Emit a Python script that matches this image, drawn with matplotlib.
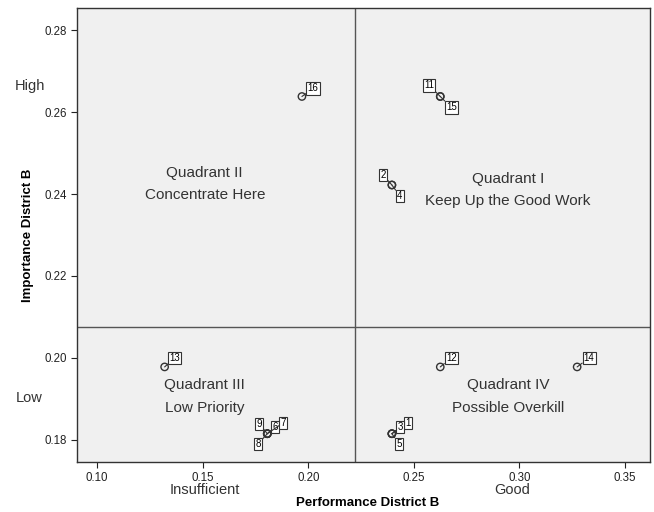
import matplotlib.pyplot as plt

plt.rcParams['font.family'] = ['Liberation Sans', 'DejaVu Sans']

# case ids with performance (x) and importance (y) for District B
case_ids = ['1', '2', '3', '4', '5', '6', '7', '8', '9', '11', '12', '13', '14', '15', '16']
performance = [0.2396, 0.2396, 0.2396, 0.2396, 0.2396, 0.1806, 0.1806, 0.1806, 0.1806,
               0.2625, 0.2625, 0.1320, 0.3273, 0.2625, 0.1970]
importance = [0.1815, 0.2422, 0.1815, 0.2422, 0.1815, 0.1815, 0.1815, 0.1815, 0.1815,
              0.2638, 0.1978, 0.1978, 0.1978, 0.2638, 0.2638]

x_split = 0.2222
y_split = 0.2076

x_ticks = [0.10, 0.15, 0.20, 0.25, 0.30, 0.35]
y_ticks = [0.18, 0.20, 0.22, 0.24, 0.26, 0.28]

quadrant_texts = ['Quadrant I\nKeep Up the Good Work', 'Quadrant II\nConcentrate Here',
                  'Quadrant III\nLow Priority', 'Quadrant IV\nPossible Overkill']

# label offsets in pixels (SPSS style point labels)
label_offsets = {'1': (16, 11), '2': (-9, 10), '3': (8, 7), '4': (8, -11), '5': (7, -10),
                 '6': (8, 7), '7': (16, 11), '8': (-9, -10), '9': (-8, 10),
                 '11': (-11, 11), '12': (11, 9), '13': (10, 9), '14': (12, 9),
                 '15': (11, -11), '16': (11, 8)}

fig = plt.figure(figsize=(6.54, 5.12), dpi=100)
ax = fig.add_axes([0.1177, 0.0977, 0.8762, 0.8867])
ax.set_facecolor('#f0f0f0')

ax.scatter(performance, importance, s=28, facecolors='none', edgecolors='#333333',
           linewidths=1.0, zorder=3)

for cid, px, py in zip(case_ids, performance, importance):
    dx, dy = label_offsets[cid]
    ax.annotate(cid, (px, py), xytext=(dx, dy), textcoords='offset pixels',
                ha='center', va='center', fontsize=7, color='black',
                bbox=dict(boxstyle='square,pad=0.12', fc='white', ec='#333333', lw=0.8),
                arrowprops=dict(arrowstyle='-', color='#333333', lw=0.8,
                                shrinkA=0, shrinkB=0), zorder=4)

ax.axvline(x_split, color='#555555', lw=1.0, zorder=2)
ax.axhline(y_split, color='#555555', lw=1.0, zorder=2)

ax.set_xlim(0.0905, 0.3618)
ax.set_ylim(0.1746, 0.2854)
ax.set_xticks(x_ticks)
ax.set_yticks(y_ticks)
ax.set_xticklabels([f'{t:.2f}' for t in x_ticks])
ax.set_yticklabels([f'{t:.2f}' for t in y_ticks])
ax.tick_params(labelsize=8.3, colors='#222222', length=4, width=0.8)
for sp in ax.spines.values():
    sp.set_color('#333333')
    sp.set_linewidth(1.0)

qkw = dict(ha='center', va='center', fontsize=11, color='#333333', linespacing=1.75)
ax.text(0.2945, 0.2410, quadrant_texts[0], **qkw)
ax.text(0.1510, 0.2425, quadrant_texts[1], **qkw)
ax.text(0.1510, 0.1906, quadrant_texts[2], **qkw)
ax.text(0.2945, 0.1906, quadrant_texts[3], **qkw)

side_kw = dict(ha='center', va='center', fontsize=10.5, color='#333333')
fig.text(30 / 654, 1 - 86 / 512, 'High', **side_kw)
fig.text(29 / 654, 1 - 398 / 512, 'Low', **side_kw)
fig.text(205 / 654, 1 - 490 / 512, 'Insufficient', **side_kw)
fig.text(512 / 654, 1 - 490 / 512, 'Good', **side_kw)

fig.text(368 / 654, 1 - 503 / 512, 'Performance District B', ha='center', va='center',
         fontsize=9.5, fontweight='bold')
fig.text(28 / 654, 1 - 235 / 512, 'Importance District B', ha='center', va='center',
         fontsize=9.5, fontweight='bold', rotation=90)

fig.savefig('out.png', dpi=100)
